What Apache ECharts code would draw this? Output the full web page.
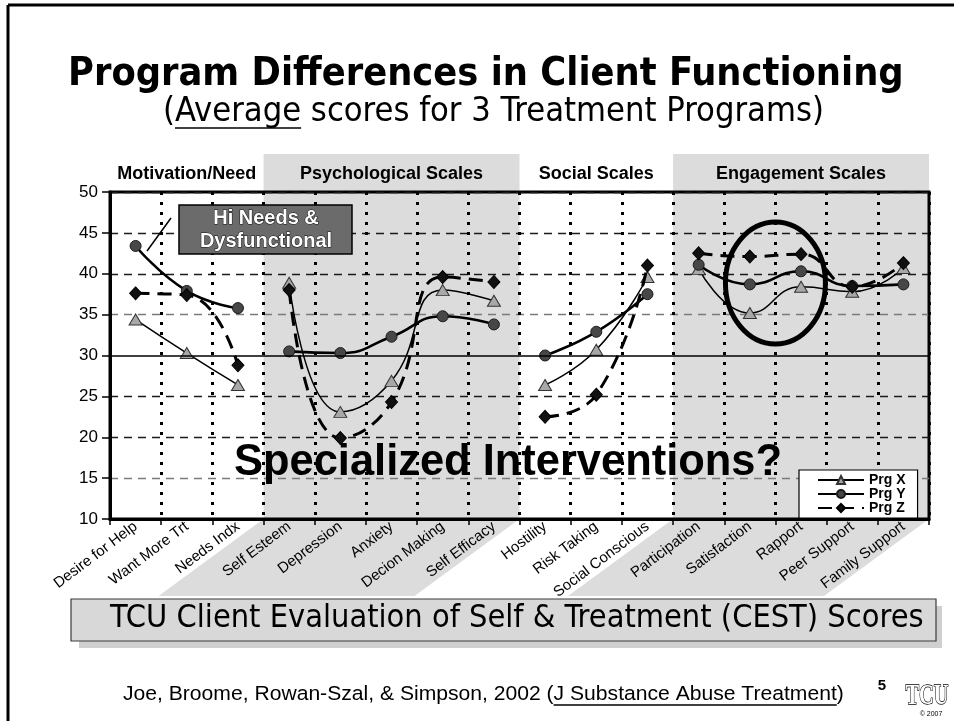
<!DOCTYPE html>
<html><head><meta charset="utf-8">
<script src="https://cdn.jsdelivr.net/npm/echarts@6/dist/echarts.min.js"></script>
<style>html,body{margin:0;padding:0;background:#fff}#c{width:954px;height:721px}</style>
</head><body><div id="c"></div>
<script>
// ---------- data ----------
const categories = ['Desire for Help','Want More Trt','Needs Indx','Self Esteem','Depression','Anxiety','Decion Making','Self Efficacy','Hostility','Risk Taking','Social Conscious','Participation','Satisfaction','Rapport','Peer Support','Family Support'];
const groupNames = ['Motivation/Need','Psychological Scales','Social Scales','Engagement Scales'];
const groupSizes = [3,5,3,5];
const groupShaded = [false,true,false,true];
const programNames = ['Prg X','Prg Y','Prg Z'];
const prgX = [34.4,30.3,26.4, 38.9,23.1,26.9,38.0,36.7, 26.4,30.7,39.6, 40.6,35.2,38.4,37.8,40.7];
const prgY = [43.4,37.9,35.8, 30.5,30.3,32.3,34.8,33.8, 30.0,32.9,37.5, 41.1,38.7,40.3,38.5,38.7];
const prgZ = [37.6,37.4,28.8, 38.0,19.9,24.3,39.6,39.0, 22.5,25.2,41.0, 42.5,42.1,42.4,38.4,41.3];
const yMin = 10, yMax = 50, yStep = 5;
const referenceLine = 30;

const titleText = 'Program Differences in Client Functioning';
const subPre = '(', subUnder = 'Average', subPost = ' scores for 3 Treatment Programs)';
const noteText = ['Hi Needs &', 'Dysfunctional'];
const bigText = 'Specialized Interventions?';
const boxText = 'TCU Client Evaluation of Self & Treatment (CEST) Scores';
const footPre = 'Joe, Broome, Rowan-Szal, & Simpson, 2002 (', footUnder = 'J Substance Abuse Treatment', footPost = ')';

// ---------- styles ----------
const FF = "'Liberation Sans', Arial, Helvetica, sans-serif";
const TF = "'DejaVu Sans Condensed', 'DejaVu Sans', sans-serif";
const ctx = document.createElement('canvas').getContext('2d');
function tw(t, font){ ctx.font = font; return ctx.measureText(t).width; }
function fit(t, weight, fam, target){ return 100 * target / tw(t, weight + ' 100px ' + fam); }

const progStyles = [
  {symbol:'triangle', symbolSize:[13,11], lineStyle:{color:'#000', width:1.5}, itemStyle:{color:'#a8a8a8', borderColor:'#333', borderWidth:1}},
  {symbol:'circle', symbolSize:11, lineStyle:{color:'#000', width:2.6}, itemStyle:{color:'#474747', borderColor:'#1a1a1a', borderWidth:1}},
  {symbol:'diamond', symbolSize:[12,13], lineStyle:{color:'#000', width:3, type:[14,8]}, itemStyle:{color:'#111', borderColor:'#000', borderWidth:1}}
];

function buildSeries(){
  const vals = [prgX, prgY, prgZ];
  const out = [];
  let start = 0;
  groupSizes.forEach((size) => {
    vals.forEach((arr, p) => {
      const data = categories.map((c, i) => (i >= start && i < start + size) ? arr[i] : null);
      out.push(Object.assign({type:'line', name:programNames[p], data, smooth:0.5, connectNulls:false,
        showSymbol:true, z:3 + p, animation:false, emphasis:{disabled:true}}, progStyles[p]));
    });
    start += size;
  });
  out[0].markLine = {silent:true, symbol:'none', label:{show:false}, animation:false,
    lineStyle:{color:'#000', width:1.6, type:'solid'}, data:[{yAxis:referenceLine}]};
  return out;
}

const splitColors = [];
for (let v = yMin; v <= yMax; v += yStep) {
  if (v === referenceLine) splitColors.push('rgba(0,0,0,0)');
  else if (v === 15 || v === 35) splitColors.push('#7a7a7a');
  else splitColors.push('#1a1a1a');
}

const chart = echarts.init(document.getElementById('c'), null, {renderer:'canvas'});
const option = {
  backgroundColor:'#fff',
  animation:false,
  grid:{left:110, right:25, top:192, bottom:202, show:true, borderColor:'#000', borderWidth:3, backgroundColor:'transparent'},
  legend:{data:programNames, orient:'vertical', left:799, top:470, backgroundColor:'#fff', borderColor:'#000', borderWidth:1.2,
    padding:[3,12,3,18], itemGap:0, itemWidth:46, itemHeight:10, selectedMode:false,
    textStyle:{fontFamily:FF, fontWeight:'bold', fontSize:14, color:'#000', lineHeight:13}},
  xAxis:{type:'category', data:categories, boundaryGap:true,
    axisLine:{lineStyle:{color:'#000', width:3}},
    axisTick:{show:true, interval:0, length:6, lineStyle:{color:'#000', width:1.5}},
    axisLabel:{interval:0, rotate:37, margin:6, fontFamily:FF, fontSize:15, color:'#000'},
    splitLine:{show:true, interval:0, lineStyle:{color:'#000', width:3, type:[3,7]}}},
  yAxis:{type:'value', min:yMin, max:yMax, interval:yStep,
    axisLine:{show:true, lineStyle:{color:'#000', width:3}},
    axisTick:{show:true, length:8, lineStyle:{color:'#000', width:1.5}},
    axisLabel:{fontFamily:FF, fontSize:17, color:'#000', margin:12},
    splitLine:{show:true, lineStyle:{color:splitColors, width:1.3, type:[8,6]}}},
  series:buildSeries()
};
chart.setOption(option);

// ---------- decorations computed from the axes ----------
const xAt = i => chart.convertToPixel({xAxisIndex:0}, i);
const yAt = v => chart.convertToPixel({yAxisIndex:0}, v);
const half = (xAt(1) - xAt(0)) / 2;
const yTop = yAt(yMax), yBot = yAt(yMin);
const headTop = yTop - 38;
const slantX = 105, slantY = 77;
const G = [];
let s = 0;
groupSizes.forEach((size, gi) => {
  const x0 = xAt(s) - half, x1 = xAt(s + size - 1) + half;
  if (groupShaded[gi]) {
    G.push({type:'rect', z:-10, silent:true, shape:{x:x0, y:headTop, width:x1 - x0, height:yBot - headTop}, style:{fill:'#dcdcdc'}});
    G.push({type:'polygon', z:-10, silent:true, shape:{points:[[x0, yBot], [x1, yBot], [x1 - slantX, yBot + slantY], [x0 - slantX, yBot + slantY]]}, style:{fill:'#dcdcdc'}});
  }
  G.push({type:'text', z:20, silent:true, x:(x0 + x1) / 2, y:(headTop + yTop) / 2 + 1,
    style:{text:groupNames[gi], font:'bold 18px ' + FF, fill:'#000', align:'center', verticalAlign:'middle', textAlign:'center', textVerticalAlign:'middle'}});
  s += size;
});

// slide frame
G.push({type:'line', z:30, silent:true, shape:{x1:8, y1:5, x2:8, y2:721}, style:{stroke:'#000', lineWidth:3}});
G.push({type:'line', z:30, silent:true, shape:{x1:8, y1:5, x2:954, y2:5}, style:{stroke:'#000', lineWidth:3}});

function textEl(t, x, baseline, font, size, z, extra){
  return {type:'text', z:z, silent:true, x:x, y:baseline - 0.35 * size,
    style:Object.assign({text:t, font:font, fill:'#000', align:'left', verticalAlign:'middle', textAlign:'left', textVerticalAlign:'middle'}, extra || {})};
}
// title
const tSize = fit(titleText, 'bold', TF, 836);
G.push(textEl(titleText, 68, 89, 'bold ' + tSize + 'px ' + TF, tSize, 40, {shadowColor:'#9a9a9a', shadowOffsetX:2, shadowOffsetY:2, shadowBlur:0}));
const subFull = subPre + subUnder + subPost;
const sSize = fit(subFull, 'normal', TF, 661);
const sFont = sSize + 'px ' + TF;
G.push(textEl(subFull, 163, 124, sFont, sSize, 40, {shadowColor:'#b0b0b0', shadowOffsetX:1.5, shadowOffsetY:1.5, shadowBlur:0}));
const ux0 = 163 + tw(subPre, sFont), ux1 = ux0 + tw(subUnder, sFont);
G.push({type:'line', z:40, silent:true, shape:{x1:ux0, y1:128, x2:ux1, y2:128}, style:{stroke:'#000', lineWidth:1.6}});

// note box + pointer
G.push({type:'rect', z:40, silent:true, shape:{x:179, y:205, width:173, height:49}, style:{fill:'#6b6b6b', stroke:'#000', lineWidth:1.5}});
G.push({type:'line', z:40, silent:true, shape:{x1:147, y1:251, x2:171, y2:218}, style:{stroke:'#000', lineWidth:1.5}});
noteText.forEach((t, k) => {
  G.push({type:'text', z:41, silent:true, x:266, y:218 + k * 23,
    style:{text:t, font:'bold 20px ' + FF, fill:'#fff', stroke:'#111', lineWidth:1, align:'center', verticalAlign:'middle', textAlign:'center', textVerticalAlign:'middle',
      shadowColor:'#000', shadowOffsetX:1.5, shadowOffsetY:1.5, shadowBlur:0}});
});

// ellipse highlight
G.push({type:'ellipse', z:40, silent:true, shape:{cx:(xAt(12) + xAt(13)) / 2, cy:283, rx:50, ry:61}, style:{fill:'none', stroke:'#000', lineWidth:5}});

// big question
const bSize = fit(bigText, 'bold', FF, 548);
G.push({type:'text', z:45, silent:true, x:508, y:463,
  style:{text:bigText, font:'bold ' + bSize + 'px ' + FF, fill:'#000', align:'center', verticalAlign:'middle', textAlign:'center', textVerticalAlign:'middle',
    shadowColor:'#a0a0a0', shadowOffsetX:3, shadowOffsetY:3, shadowBlur:0}});

// bottom box
const boxY = 599, boxH = 42;
G.push({type:'rect', z:40, silent:true, shape:{x:79, y:boxY + 7, width:863, height:boxH}, style:{fill:'#cfcfcf'}});
G.push({type:'rect', z:41, silent:true, shape:{x:71, y:boxY, width:865, height:boxH}, style:{fill:'#d8d8d8', stroke:'#3a3a3a', lineWidth:1.2}});
const boxSize = fit(boxText, 'normal', TF, 814);
G.push(textEl(boxText, 110, boxY + 31, boxSize + 'px ' + TF, boxSize, 42));

// footer
const footFull = footPre + footUnder + footPost;
const fSize = fit(footFull, 'normal', FF, 721);
const fFont = fSize + 'px ' + FF;
G.push(textEl(footFull, 123, 702, fFont, fSize, 40));
const fx0 = 123 + tw(footPre, fFont), fx1 = fx0 + tw(footUnder, fFont);
G.push({type:'line', z:40, silent:true, shape:{x1:fx0, y1:705, x2:fx1, y2:705}, style:{stroke:'#000', lineWidth:1.3}});
G.push({type:'text', z:40, silent:true, x:882, y:686, style:{text:'5', font:'bold 15px ' + FF, fill:'#000', align:'center', verticalAlign:'middle', textAlign:'center', textVerticalAlign:'middle'}});
G.push({type:'text', z:40, silent:true, x:927, y:696, scaleX:0.68, style:{text:'TCU', font:"bold 30px 'Liberation Serif', 'DejaVu Serif', serif", fill:'#fff', stroke:'#000', lineWidth:1.4, align:'center', verticalAlign:'middle', textAlign:'center', textVerticalAlign:'middle'}});
G.push({type:'text', z:40, silent:true, x:931, y:714, style:{text:'© 2007', font:'7px ' + FF, fill:'#000', align:'center', verticalAlign:'middle', textAlign:'center', textVerticalAlign:'middle'}});

chart.setOption({graphic:{elements:G}});
</script></body></html>
